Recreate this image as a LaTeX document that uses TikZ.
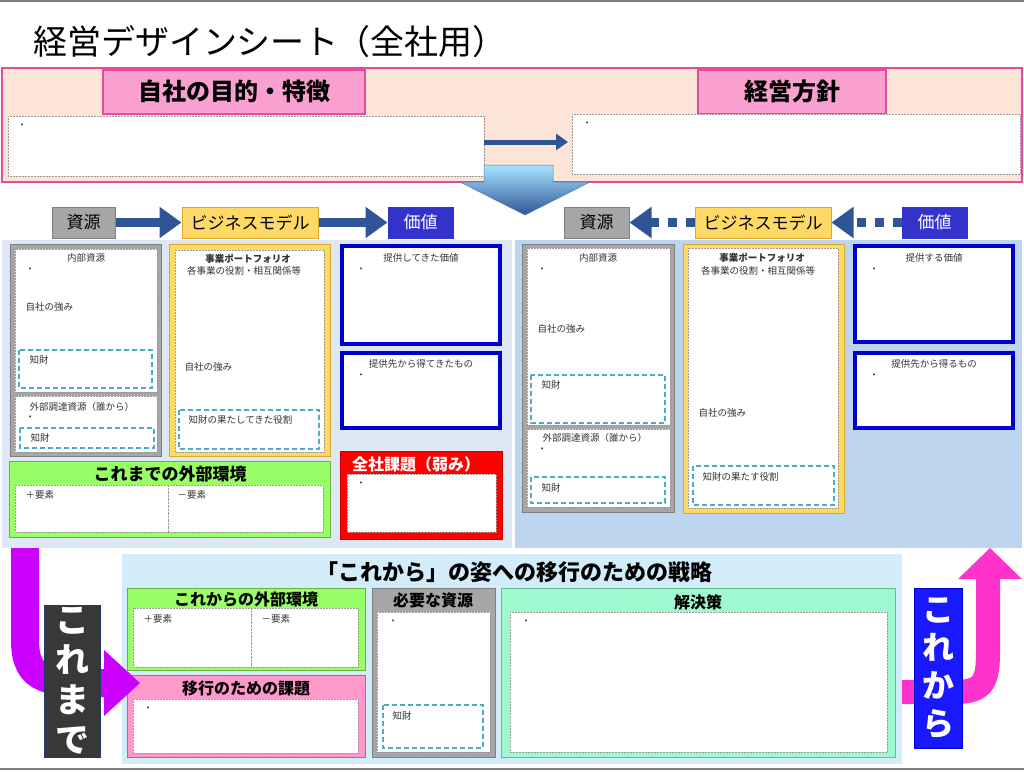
\documentclass[tikz,border=0pt]{standalone}
\usepackage{fontspec}
\setmainfont{Noto Sans CJK JP}
\usetikzlibrary{arrows.meta}
\definecolor{peach}{HTML}{FCE4D6}
\definecolor{mag}{HTML}{E64A9E}
\definecolor{pinkh}{HTML}{F9A0D0}
\definecolor{gbox}{HTML}{A6A6A6}
\definecolor{gbord}{HTML}{7F7F7F}
\definecolor{yel}{HTML}{FFD966}
\definecolor{yelb}{HTML}{D9A82E}
\definecolor{bluv}{HTML}{0000CC}
\definecolor{valb}{HTML}{3333CC}
\definecolor{grn}{HTML}{99FF66}
\definecolor{grnb}{HTML}{70AD47}
\definecolor{lbg}{HTML}{DEE8F4}
\definecolor{rbg}{HTML}{BDD5EE}
\definecolor{bbg}{HTML}{D2ECFA}
\definecolor{mint}{HTML}{A0F8CF}
\definecolor{mintb}{HTML}{5FBF8F}
\definecolor{cyn}{HTML}{4BACC6}
\definecolor{arrb}{HTML}{2F5597}
\definecolor{purp}{HTML}{CC00FF}
\definecolor{hpink}{HTML}{FF33CC}
\definecolor{pinkb}{HTML}{FF99CC}
\newcommand\rbox[5]{\draw[#1] (#2,#3) rectangle (#4,#5);}
\tikzset{
 x=1pt,y=-1pt,
 wb/.style={fill=white,draw=gray!80,densely dotted,line width=0.5pt},
 kz/.style={draw=cyn,dashed,line width=1.2pt,dash pattern=on 5pt off 3pt},
 sm/.style={font=\fontsize{9.5}{10}\selectfont,anchor=west,text=black!80},
 smc/.style={font=\fontsize{9.5}{10}\selectfont,text=black!80},
 hd/.style={font=\fontsize{24}{26}\selectfont\bfseries},
 sh/.style={font=\fontsize{16}{17}\selectfont\bfseries},
 tab/.style={font=\fontsize{17}{18}\selectfont,minimum height=31pt,inner sep=0pt,line width=1pt},
 fat/.style={line width=9pt,draw=arrb,-{Triangle[length=22pt,width=30pt]}},
 dotarr/.style={line width=9pt,draw=arrb,dash pattern=on 9pt off 9pt,-{Triangle[length=22pt,width=30pt]}},
}
\begin{document}
\begin{tikzpicture}
\useasboundingbox (0,0) rectangle (1024,771);
\fill[white] (0,0) rectangle (1024,771);
\draw[gray,line width=1.5pt] (0,1) -- (1024,1);
\draw[gray,line width=1.5pt] (0,769) -- (1024,769);
\node[anchor=west,font=\fontsize{34}{36}\selectfont] (title) at (30,42) {経営デザイン\kern-1pt シート\kern-2pt（全社用）};
% top panel
\rbox{fill=peach,draw=mag,line width=2pt}{2}{68}{1022}{182}
\rbox{fill=pinkh,draw=mag,line width=1.5pt}{103}{70}{365}{114}
\node[hd] (h1) at (234,91) {自社の目的・特徴};
\rbox{fill=pinkh,draw=mag,line width=1.5pt}{698}{70}{886}{114}
\node[hd] (h2) at (792,91) {経営方針};
\rbox{wb}{8}{116}{484}{176}
\rbox{wb}{572}{114}{1020}{174}
\node[smc] (d1) at (22,126) {・};
\node[smc] (d2) at (587,124) {・};
\coordinate (ta) at (484,142);
\coordinate (tb) at (568,142);
\draw[line width=5pt,draw=arrb,-{Triangle[length=12pt,width=16pt]}] (ta) -- (tb);
% big down arrow
\shade[top color=blue!30!cyan!35,bottom color=arrb,draw=arrb!80,line width=0.5pt]
 (484,165) -- (553,165) -- (553,182) -- (590,182) -- (525,215) -- (460,182) -- (484,182) -- cycle;
% backgrounds
\fill[lbg] (2,240) rectangle (512,548);
\fill[rbg] (515,240) rectangle (1022,548);
% tab row left
\node[tab,fill=gbox,draw=gbord,minimum width=63pt] (s1) at (83.5,222.5) {資源};
\node[tab,fill=yel,draw=yelb,minimum width=136pt] (bm1) at (250,222.5) {ビジネスモデル};
\node[tab,fill=valb,draw=valb,text=white,minimum width=65pt] (v1) at (420.5,222.5) {価値};
\draw[fat] (s1.east) -- (bm1.west);
\draw[fat] (bm1.east) -- (v1.west);
% tab row right
\node[tab,fill=gbox,draw=gbord,minimum width=65pt] (s2) at (596.5,222.5) {資源};
\node[tab,fill=yel,draw=yelb,minimum width=136pt] (bm2) at (763,222.5) {ビジネスモデル};
\node[tab,fill=valb,draw=valb,text=white,minimum width=65pt] (v2) at (934.5,222.5) {価値};
\draw[dotarr] (bm2.west) -- (s2.east);
\draw[dotarr] (v2.west) -- (bm2.east);
% ===== left block
\rbox{fill=gbox,draw=gbord,line width=1pt}{10}{244}{161}{456}
\rbox{wb}{15}{249}{157}{392}
\node[smc] at (86,258) {内部資源};
\node[smc] at (30,270) {・};
\node[sm] at (22,307) {自社の強み};
\rbox{kz}{19}{350}{152}{388}
\node[sm] at (26,360) {知財};
\rbox{wb}{15}{396}{157}{452}
\node[sm] at (26,407) {外部調達資源（誰から）};
\node[smc] at (30,418) {・};
\rbox{kz}{20}{428}{154}{448}
\node[sm] at (27,438) {知財};
\rbox{fill=yel,draw=yelb,line width=1pt}{169}{244}{330}{456}
\rbox{wb}{175}{250}{324}{452}
\node[smc,font=\fontsize{9.5}{10}\selectfont\bfseries] at (248,259) {事業ポートフォリオ};
\node[smc] at (244,271) {各事業の役割・相互関係等};
\node[sm] at (181,367) {自社の強み};
\rbox{kz}{179}{410}{319}{449}
\node[sm] at (185,420) {知財の果たしてきた役割};
\rbox{fill=white,draw=bluv,line width=4pt}{342}{246}{500}{344}
\node[smc] at (421,258) {提供してきた価値};
\node[smc] at (361,270) {・};
\rbox{fill=white,draw=bluv,line width=4pt}{342}{353}{500}{428}
\node[smc] at (421,364) {提供先から得てきたもの};
\node[smc] at (361,376) {・};
\rbox{fill=red,draw=red!80!black,line width=1pt}{340}{451}{502}{539}
\node[font=\fontsize{16}{17}\selectfont\bfseries,text=white] (kd) at (416,464) {全社課題（弱み）};
\rbox{wb}{347}{474}{496}{532}
\node[smc] at (361,484) {・};
\rbox{fill=grn,draw=grnb,line width=1pt}{9}{461}{330}{537}
\node[font=\fontsize{17}{18}\selectfont\bfseries] (ke) at (170,474) {これまでの外部環境};
\rbox{wb}{15}{485}{323}{532}
\draw[gray!80,densely dotted] (168,485) -- (168,532);
\node[sm] at (22,495) {＋要素};
\node[sm] at (174,495) {－要素};
% ===== right block
\rbox{fill=gbox,draw=gbord,line width=1pt}{522}{244}{674}{512}
\rbox{wb}{527}{248}{670}{425}
\node[smc] at (598,258) {内部資源};
\node[smc] at (542,270) {・};
\node[sm] at (534,329) {自社の強み};
\rbox{kz}{531}{375}{665}{423}
\node[sm] at (538,385) {知財};
\rbox{wb}{527}{429}{670}{507}
\node[sm] at (539,438) {外部調達資源（誰から）};
\node[smc] at (542,450) {・};
\rbox{kz}{531}{477}{665}{503}
\node[sm] at (538,488) {知財};
\rbox{fill=yel,draw=yelb,line width=1pt}{683}{244}{844}{513}
\rbox{wb}{688}{248}{838}{508}
\node[smc,font=\fontsize{9.5}{10}\selectfont\bfseries] at (762,258) {事業ポートフォリオ};
\node[smc] at (758,271) {各事業の役割・相互関係等};
\node[sm] at (695,413) {自社の強み};
\rbox{kz}{693}{466}{834}{505}
\node[sm] at (699,477) {知財の果たす役割};
\rbox{fill=white,draw=bluv,line width=4pt}{855}{246}{1013}{342}
\node[smc] at (934,258) {提供する価値};
\node[smc] at (874,270) {・};
\rbox{fill=white,draw=bluv,line width=4pt}{855}{353}{1013}{428}
\node[smc] at (934,364) {提供先から得るもの};
\node[smc] at (874,376) {・};
% ===== bottom
\fill[bbg] (122,554) rectangle (902,764);
\node[font=\fontsize{22}{24}\selectfont\bfseries] (st) at (514,572) {「これから」の姿への移行のための戦略};
\rbox{fill=grn,draw=grnb,line width=1pt}{127}{588}{365}{670}
\node[sh] (fe) at (246,599) {これからの外部環境};
\rbox{wb}{133}{608}{358}{667}
\draw[gray!80,densely dotted] (251,608) -- (251,667);
\node[sm] at (140,619) {＋要素};
\node[sm] at (258,619) {－要素};
\rbox{fill=pinkb,draw=mag,line width=1pt}{127}{675}{365}{757}
\node[sh] (ik) at (246,688) {移行のための課題};
\rbox{wb}{133}{699}{358}{753}
\node[smc] at (148,709) {・};
\rbox{fill=gbox,draw=gbord,line width=1pt}{372}{588}{495}{757}
\node[sh] (hs) at (433,600) {必要な資源};
\rbox{wb}{377}{612}{490}{752}
\node[smc] at (393,622) {・};
\rbox{kz}{383}{705}{483}{748}
\node[sm] at (389,716) {知財};
\rbox{fill=mint,draw=mintb,line width=1pt}{501}{588}{895}{757}
\node[sh] (ks) at (698,602) {解決策};
\rbox{wb}{510}{612}{887}{752}
\node[smc] at (526,622) {・};
% left magenta arrow
\coordinate (la) at (25,548);
\coordinate (lb) at (105,683);
\draw[purp,line width=28pt] (la) -- (25,640) .. controls (25,683) and (50,683) .. (lb);
\fill[purp] (104,650) -- (140,683) -- (104,716) -- cycle;
\node[fill=black!78,draw=arrb!70!black,line width=1pt,minimum width=56pt,minimum height=152pt,text=white,
 font=\fontsize{34}{40}\selectfont\bfseries,align=center,inner sep=0pt] (kmd) at (72,681) {こ\\れ\\ま\\で};
% right pink arrow
\coordinate (ra) at (902,692);
\coordinate (rb) at (988,578);
\draw[hpink,line width=24pt] (ra) -- (955,692) .. controls (985,692) and (988,680) .. (988,650) -- (rb);
\fill[hpink] (958,579) -- (990,548) -- (1022,579) -- cycle;
\node[fill=blue!90,draw=bluv,line width=1pt,minimum width=48pt,minimum height=160pt,text=white,
 font=\fontsize{32}{38}\selectfont\bfseries,align=center,inner sep=0pt] (kkr) at (938,668) {こ\\れ\\か\\ら};
\end{tikzpicture}
\end{document}
